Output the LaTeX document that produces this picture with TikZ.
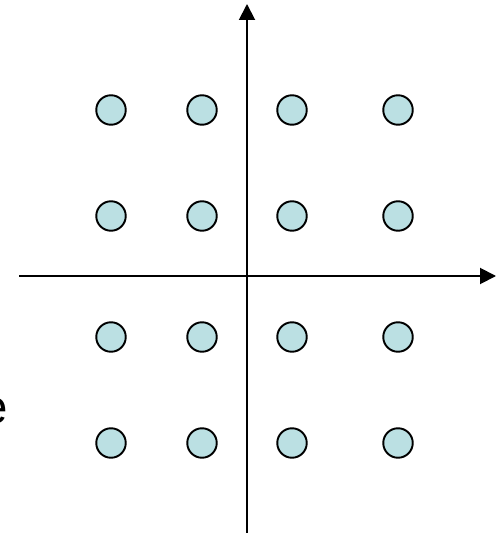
\documentclass[tikz,border=0pt]{standalone}
\usepackage{fontspec}
\setmainfont{Liberation Sans}
\usepackage{xcolor}
\usetikzlibrary{arrows.meta, positioning}
\definecolor{pointfill}{HTML}{BBE0E3}
\tikzset{
    axis/.style={line width=1.1pt, -{Triangle[length=0.32cm, width=0.32cm]}},
    point/.style={draw, circle, fill=pointfill, line width=1.1pt, minimum size=0.59cm, inner sep=0pt},
    % cut-off letter at the left border
    edge letter/.style={anchor=base east, inner sep=0pt, font=\fontsize{27}{32}\selectfont},
}
\begin{document}
\begin{tikzpicture}[x=0.02cm, y=-0.02cm]
    \useasboundingbox (0,0) rectangle (496,533);
    \clip (0,0) rectangle (496,533);

    \coordinate (xl) at (19,276);
    \coordinate (xr) at (496,276);
    \coordinate (yb) at (247,533);
    \coordinate (yt) at (247,4);
    \draw[axis] (xl) -- (xr);
    \draw[axis] (yb) -- (yt);

    \node[point] (p11) at (111,110) {};
    \node[point] (p12) at (202,110) {};
    \node[point] (p13) at (292,110) {};
    \node[point] (p14) at (398,110) {};

    \node[point] (p21) at (111,216) {};
    \node[point] (p22) at (202,216) {};
    \node[point] (p23) at (292,216) {};
    \node[point] (p24) at (398,216) {};

    \node[point] (p31) at (111,337) {};
    \node[point] (p32) at (202,337) {};
    \node[point] (p33) at (292,337) {};
    \node[point] (p34) at (398,337) {};

    \node[point] (p41) at (111,443) {};
    \node[point] (p42) at (202,443) {};
    \node[point] (p43) at (292,443) {};
    \node[point] (p44) at (398,443) {};

    \node[edge letter] (cut) at (8,423) {e};
\end{tikzpicture}
\end{document}
